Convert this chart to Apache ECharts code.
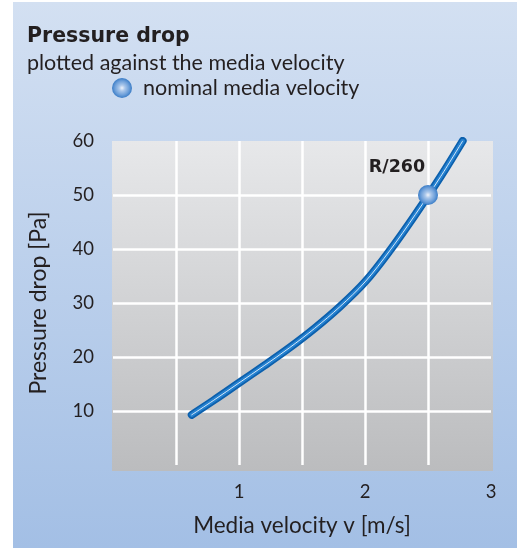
<!DOCTYPE html>
<html>
<head>
<meta charset="utf-8">
<script src="https://cdn.jsdelivr.net/npm/echarts@6/dist/echarts.min.js"></script>
<style>html,body{margin:0;padding:0;background:#fff;}#c{width:517px;height:548px;}</style>
</head>
<body>
<div id="c"></div>
<script>
// Data
const velocity = [0.625, 0.8, 1.0, 1.2, 1.4, 1.6, 1.8, 2.0, 2.2, 2.4, 2.6, 2.775];
const pressure = [9.3, 12.0, 15.2, 18.4, 21.7, 25.3, 29.3, 33.9, 39.8, 46.4, 53.4, 60.0];
const nominalVelocity = [2.5];
const nominalPressure = [50];
const nominalLabel = 'R/260';
const xTicks = [1, 2, 3];
const yTicks = [10, 20, 30, 40, 50, 60];

const FONT = 'Lato, "Open Sans", sans-serif';
const BOLD = '"DejaVu Sans", sans-serif';
const TXT = '#231f20';
const chart = echarts.init(document.getElementById('c'), null, {renderer: 'canvas'});

const markerColor = new echarts.graphic.RadialGradient(0.5, 0.5, 0.5, [
  {offset: 0, color: '#eef3fb'},
  {offset: 0.3, color: '#a9c6ea'},
  {offset: 0.7, color: '#6ea0da'},
  {offset: 1, color: '#3a7cc6'}
]);

const curve = velocity.map((v, i) => [v, pressure[i]]);
const nominal = nominalVelocity.map((v, i) => [v, nominalPressure[i]]);

chart.setOption({
  animation: false,
  backgroundColor: '#ffffff',
  textStyle: {fontFamily: FONT},
  graphic: [
    {type: 'rect', z: -10, shape: {x: 13, y: 2, width: 504, height: 546},
     style: {fill: new echarts.graphic.LinearGradient(0, 0, 0, 1, [
       {offset: 0, color: '#d3e0f2'}, {offset: 1, color: '#a3bfe5'}])}},
    {type: 'rect', z: -9, shape: {x: 112, y: 141, width: 381, height: 330},
     style: {fill: new echarts.graphic.LinearGradient(0, 0, 0, 1, [
       {offset: 0, color: '#e7e8ea'}, {offset: 1, color: '#bbbcbe'}])}}
  ],
  title: {
    text: 'Pressure drop',
    subtext: 'plotted against the media velocity',
    left: 22, top: 21, itemGap: 5,
    textStyle: {fontFamily: BOLD, fontWeight: 'bold', fontSize: 20.5, color: TXT},
    subtextStyle: {fontFamily: FONT, fontSize: 21.5, color: TXT}
  },
  legend: {
    left: 107, top: 72,
    itemWidth: 20, itemHeight: 20,
    textStyle: {fontFamily: FONT, fontSize: 21.5, color: TXT, padding: [0, 0, 0, 6]},
    data: [{name: 'nominal media velocity', icon: 'circle'}]
  },
  grid: {left: 113, right: 26, top: 141, bottom: 83, containLabel: false},
  xAxis: {
    type: 'value', min: 0, max: 3, interval: 0.5,
    name: 'Media velocity v [m/s]', nameLocation: 'middle', nameGap: 49,
    nameTextStyle: {fontFamily: FONT, fontSize: 22.5, color: TXT},
    axisLine: {show: false}, axisTick: {show: false},
    axisLabel: {margin: 18, fontFamily: FONT, fontSize: 18.5, color: TXT,
      formatter: v => xTicks.includes(v) ? String(v) : ''},
    splitLine: {show: true, showMinLine: false, showMaxLine: false, lineStyle: {color: '#ffffff', width: 2.5}}
  },
  yAxis: {
    type: 'value', min: 0, max: 60, interval: 10,
    name: 'Pressure drop [Pa]', nameLocation: 'middle', nameGap: 63,
    nameTextStyle: {fontFamily: FONT, fontSize: 23, color: TXT},
    axisLine: {show: false}, axisTick: {show: false},
    axisLabel: {margin: 19, fontFamily: FONT, fontSize: 18.5, color: TXT,
      formatter: v => yTicks.includes(v) ? String(v) : ''},
    splitLine: {show: true, showMinLine: false, showMaxLine: false, lineStyle: {color: '#ffffff', width: 2.5}}
  },
  series: [
    {type: 'line', data: curve, smooth: 0.35, symbol: 'none', z: 2,
     lineStyle: {color: '#0c60ad', width: 8, cap: 'round'}},
    {type: 'line', data: curve, smooth: 0.35, symbol: 'none', z: 3,
     lineStyle: {color: '#2480cf', width: 4.5, cap: 'round'}},
    {type: 'line', data: curve, smooth: 0.35, symbol: 'none', z: 4,
     lineStyle: {color: 'rgba(235,245,255,0.9)', width: 1, cap: 'round'}},
    {type: 'scatter', name: 'nominal media velocity', data: nominal, z: 5,
     symbol: 'circle', symbolSize: 20,
     itemStyle: {color: markerColor, opacity: 1},
     label: {show: true, formatter: nominalLabel, position: 'top', offset: [-31, -4],
       fontFamily: BOLD, fontWeight: 'bold', fontSize: 17.5, color: TXT}}
  ]
});
</script>
</body>
</html>
